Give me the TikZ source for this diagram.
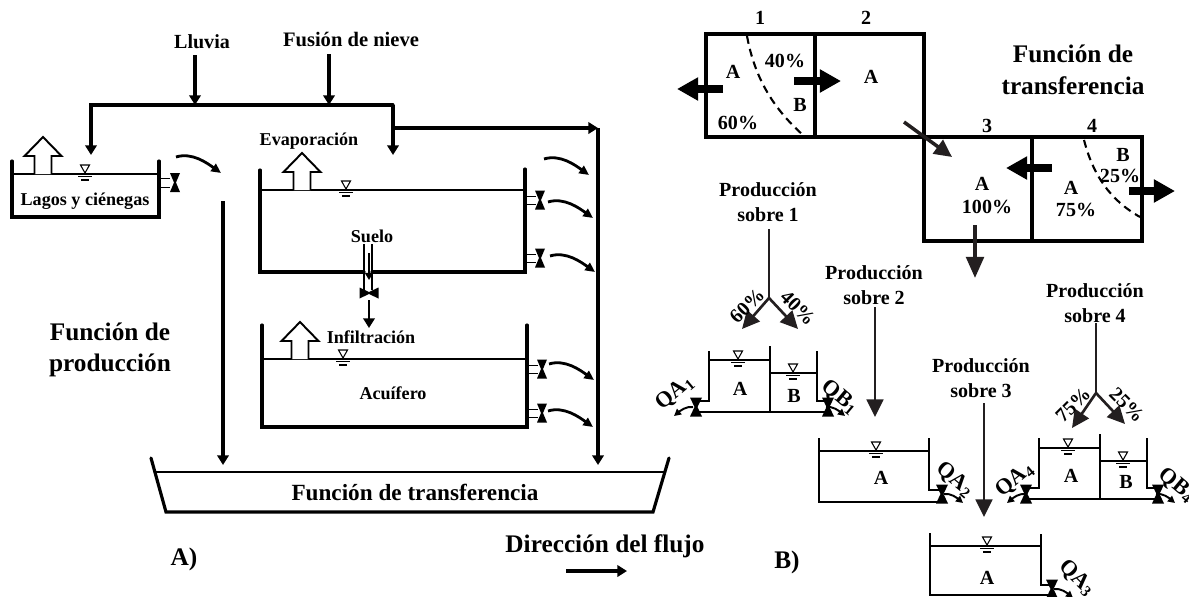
\documentclass[tikz,border=0pt]{standalone}
\usepackage{fontspec}
\setmainfont{Liberation Serif}
\usepackage{xcolor}
\usetikzlibrary{calc,arrows.meta}
\definecolor{ink}{HTML}{000000}
\definecolor{dark}{HTML}{231F20}
\tikzset{
  wall/.style={draw=ink, line width=1.8pt, line cap=round, line join=miter},
  thinwall/.style={draw=ink, line width=1.6pt, line join=miter},
  water/.style={draw=ink, line width=1.2pt},
  lab/.style={text=ink, inner sep=0pt, align=center, font=\fontsize{10.3}{13}\selectfont\bfseries},
  labm/.style={lab, font=\fontsize{11.4}{14.2}\selectfont\bfseries},
  labq/.style={lab, font=\fontsize{12.6}{14}\selectfont\bfseries},
  labb/.style={lab, font=\fontsize{14.4}{18}\selectfont\bfseries},
  flow/.style={draw=ink, line width=1.8pt, -{Triangle[length=5.5pt,width=6.5pt]}},
  drop/.style={draw=dark, line width=1.5pt, -{Triangle[length=10pt,width=9.5pt]}},
  heavy/.style={draw=ink, line width=4pt, -{Triangle[length=12pt,width=12.5pt]}},
  outcurve/.style={draw=ink, line width=1.6pt, -{Triangle[length=5.5pt,width=5pt]}},
  outsmall/.style={draw=ink, line width=1.1pt, -{Triangle[length=4pt,width=4pt]}},
  divide/.style={draw=ink, line width=1.2pt, dash pattern=on 4.5pt off 3pt},
  hollow/.pic={
    \draw[draw=ink, line width=1.1pt, fill=white] (-8.5,0) -- (-8.5,-18) -- (-18.5,-18) -- (0,-37) -- (18.5,-18) -- (8.5,-18) -- (8.5,0);
  },
  level/.pic={
    \draw[draw=ink, line width=0.6pt] (-4.5,-9) -- (4.5,-9) -- (0,-1) -- cycle;
    \draw[draw=ink, line width=0.7pt] (-7,2.5) -- (7,2.5) (-4,6) -- (4,6);
  },
  gate/.pic={
    \fill[ink] (-5,-9.5) -- (5,-9.5) -- (1,0) -- (5,9.5) -- (-5,9.5) -- (-1,0) -- cycle;
  },
  gatew/.pic={
    \fill[ink] (-6,-9.5) -- (6,-9.5) -- (1.5,0) -- (6,9.5) -- (-6,9.5) -- (-1.5,0) -- cycle;
  },
  gateh/.pic={
    \fill[ink] (-9.5,-5.5) -- (0,-1) -- (9.5,-5.5) -- (9.5,5.5) -- (0,1) -- (-9.5,5.5) -- cycle;
  }
}
\begin{document}
\begin{tikzpicture}[x=0.02cm,y=-0.02cm]
  \useasboundingbox (0,0) rectangle (1189,596);
  % inputs
  \node[labm] (lluvia) at (202,42) {Lluvia};
  \node[lab, font=\fontsize{11.7}{14}\selectfont\bfseries] (nieve) at (351,39) {Fusión de nieve};
  \coordinate (LL) at (195,105);
  \coordinate (NI) at (329,105);
  \coordinate (TL) at (91,105);
  \coordinate (TR) at (393,105);
  \coordinate (BY) at (393,128);
  \coordinate (RT) at (598,128);
  \draw[flow] (195,55) -- (LL);
  \draw[flow] (329,54) -- (NI);
  \draw[flow, line cap=round, line join=miter] (TR) -- (TL) -- (91,155);
  \draw[flow] (TR) -- (393,155);
  \draw[flow] (BY) -- (RT);
  \draw[flow] (RT) -- (598,465);
  \draw[flow] (223,201) -- (223,465);

  % lagos
  \draw[wall] (12,161) -- (12,217) -- (159,217) -- (159,161);
  \draw[water] (12,174) -- (159,174);
  \pic at (43,174) {hollow};
  \pic at (85,174) {level};
  \draw[draw=ink, line width=0.5pt] (159,178) -- (170,178) (159,187) -- (170,187);
  \pic at (175,182.5) {gate};
  \node[lab] (lagos) at (85,201) {Lagos y ciénegas};

  % suelo
  \draw[wall] (260,170) -- (260,272) -- (364,272);
  \draw[wall] (372,272) -- (525,272) -- (525,169);
  \draw[water] (260,190) -- (525,190);
  \pic at (302,190) {hollow};
  \pic at (346,190) {level};
  \node[lab] (evap) at (309,141) {Evaporación};
  \node[lab] (suelo) at (372,236) {Suelo};
  \draw[draw=ink, line width=0.7pt] (364,244) -- (364,290) (372,244) -- (372,290);
  \draw[flow, line width=1.2pt, -{Triangle[length=4pt,width=4.5pt]}] (369,253) -- (369,280);
  \pic at (369,293) {gateh};
  \draw[flow, line width=1.2pt] (369,300) -- (369,328);
  \node[lab] (infil) at (371,337) {Infiltración};

  % acuifero
  \draw[wall] (262,325) -- (262,427) -- (527,427) -- (527,325);
  \draw[water] (262,359) -- (527,359);
  \pic at (300,359) {hollow};
  \pic at (343,359) {level};
  \node[lab] (acuif) at (393,393) {Acuífero};

  % salidas
  \foreach \y/\x in {200/540,258/540,369/542,413/542} {
    \draw[draw=ink, line width=0.5pt] (\x-15,\y-4) -- (\x-4,\y-4) (\x-15,\y+4) -- (\x-4,\y+4);
    \pic at (\x,\y) {gate};
  }
  \foreach \x/\y in {176/157,544/159,548/202,550/256,549/364,548/411}
    \draw[outcurve] (\x,\y) .. controls +(16,-5) and +(-14,-10) .. +(45,16);

  % transferencia
  \draw[wall] (151,458) -- (166,512) -- (653,512) -- (669,458);
  \draw[water, line width=1.5pt] (155,472) -- (665,472);
  \node[lab, font=\fontsize{13.2}{15}\selectfont\bfseries] (transf) at (415,492) {Función de transferencia};
  \node[labb] (prod) at (110,350) {Función de\\producción};
  \node[labb] (parteA) at (184,559) {A)};
  \node[labb] (parteB) at (787,562) {B)};
  \node[labb] (dir) at (605,546) {Dirección del flujo};
  \coordinate (D1) at (566,571);
  \coordinate (D2) at (627,571);
  \draw[flow] (D1) -- (D2);

  % subcuencas
  \draw[wall, line cap=butt] (706,34) rectangle (815,137);
  \draw[wall, line cap=butt] (815,34) rectangle (924,137);
  \draw[wall, line cap=butt] (924,137) rectangle (1032,241);
  \draw[wall, line cap=butt] (1032,137) rectangle (1142,241);
  \draw[divide] (747,36) .. controls (755,80) and (775,110) .. (803,135);
  \draw[divide] (1084,140) .. controls (1093,175) and (1110,200) .. (1140,217);
  \node[labm] (n1) at (760,18) {1};
  \node[labm] (n2) at (866,18) {2};
  \node[labm] (n3) at (987,126) {3};
  \node[labm] (n4) at (1092,126) {4};
  \node[labm] (a1) at (733,72) {A};
  \node[labm] (p40) at (785,61) {40\%};
  \node[labm] (b1) at (800,105) {B};
  \node[labm] (p60) at (738,123) {60\%};
  \node[labm] (a2) at (871,77) {A};
  \node[labm] (a3) at (982,184) {A};
  \node[labm] (p100) at (987,207) {100\%};
  \node[labm] (a4) at (1071,188) {A};
  \node[labm] (p75) at (1076,210) {75\%};
  \node[labm] (b4) at (1123,155) {B};
  \node[labm] (p25) at (1120,176) {25\%};
  \node[labb] (ftrans) at (1073,70) {Función de\\transferencia};
  \draw[heavy] (723,89) -- (677,89);
  \draw[heavy] (794,81) -- (841,81);
  \draw[heavy] (1052,168) -- (1006,168);
  \draw[heavy] (1129,191) -- (1175,191);
  \draw[drop, line width=2pt] (904,122) -- (952,157);
  \draw[drop, line width=2pt, -{Triangle[length=12pt,width=10pt]}] (975,225) -- (975,278);

  % produccion sobre 1
  \node[labm] (ps1) at (768,202) {Producción\\sobre 1};
  \coordinate (Y1) at (769,298);
  \draw[draw=dark, line width=1.5pt] (769,229) -- (Y1);
  \draw[drop] (Y1) -- (742,329);
  \draw[drop] (Y1) -- (798,329);
  \node[labm, rotate=45] (s60) at (747,306) {60\%};
  \node[labm, rotate=-45] (s40) at (798,308) {40\%};
  \draw[thinwall] (709,351) -- (709,401) -- (696,401);
  \draw[thinwall] (817,351) -- (817,401) -- (828,401);
  \draw[thinwall] (770,346) -- (770,412);
  \draw[thinwall] (696,412) -- (828,412);
  \draw[water] (709,360) -- (770,360);
  \draw[water] (770,373) -- (817,373);
  \pic at (738,360) {level};
  \pic at (793,373) {level};
  \node[labm] (ta1) at (740,389) {A};
  \node[labm] (tb1) at (794,396) {B};
  \node[labq, rotate=40] (qa1) at (675,393) {QA\textsubscript{1}};
  \node[labq, rotate=-40] (qb1) at (840,397) {QB\textsubscript{1}};

  % produccion sobre 2
  \node[labm] (ps2) at (874,285) {Producción\\sobre 2};
  \draw[drop] (875,307) -- (875,417);
  \draw[thinwall] (819,438) -- (819,502) -- (942,502);
  \draw[thinwall] (929,438) -- (929,490) -- (942,490);
  \draw[water] (819,451) -- (929,451);
  \pic at (876,451) {level};
  \node[labm] (ta2) at (881,478) {A};
  \node[labq, rotate=-40] (qa2) at (955,480) {QA\textsubscript{2}};

  % produccion sobre 3
  \node[labm] (ps3) at (981,378) {Producción\\sobre 3};
  \draw[drop] (984,403) -- (984,517);
  \draw[thinwall] (930,533) -- (930,595) -- (1052,595);
  \draw[thinwall] (1041,534) -- (1041,585) -- (1052,585);
  \draw[water] (930,546) -- (1041,546);
  \pic at (987,546) {level};
  \node[labm] (ta3) at (987,578) {A};
  \node[labq, rotate=-45] (qa3) at (1077,578) {QA\textsubscript{3}};

  % produccion sobre 4
  \node[labm] (ps4) at (1095,303) {Producción\\sobre 4};
  \coordinate (Y4) at (1096,393);
  \draw[draw=dark, line width=1.5pt] (1096,323) -- (Y4);
  \draw[drop] (Y4) -- (1072,428);
  \draw[drop] (Y4) -- (1125,424);
  \node[labm, rotate=45] (s75) at (1073,405) {75\%};
  \node[labm, rotate=-45] (s25) at (1127,405) {25\%};
  \draw[thinwall] (1039,438) -- (1039,488) -- (1027,488);
  \draw[thinwall] (1147,438) -- (1147,488) -- (1158,488);
  \draw[thinwall] (1100,434) -- (1100,499);
  \draw[thinwall] (1027,499) -- (1158,499);
  \draw[water] (1039,448) -- (1100,448);
  \draw[water] (1100,461) -- (1147,461);
  \pic at (1068,448) {level};
  \pic at (1123,461) {level};
  \node[labm] (ta4) at (1071,476) {A};
  \node[labm] (tb4) at (1126,482) {B};
  \node[labq, rotate=40] (qa4) at (1015,480) {QA\textsubscript{4}};
  \node[labq, rotate=-40] (qb4) at (1177,485) {QB\textsubscript{4}};

  % compuertas de las cuencas
  \foreach \x/\y in {696/407,828/407,942/494,1052/589,1026/494,1158/494}
    \pic at (\x,\y) {gatew};
  \foreach \x/\y in {693/407,1026/494}
    \draw[outsmall] (\x,\y) .. controls +(-7,-1) and +(6,-5) .. +(-19,9);
  \foreach \x/\y in {826/407,944/494,1054/589,1156/494}
    \draw[outsmall] (\x,\y) .. controls +(7,-1) and +(-6,-5) .. +(19,9);
\end{tikzpicture}
\end{document}
